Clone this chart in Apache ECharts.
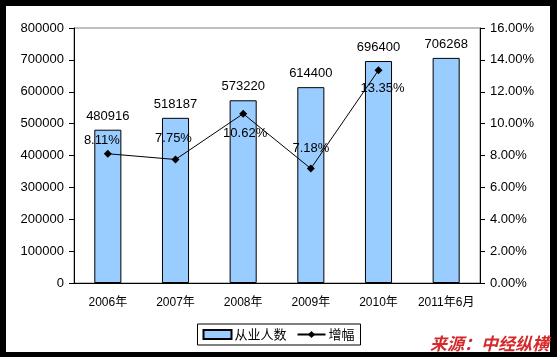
<!DOCTYPE html>
<html><head><meta charset="utf-8">
<script src="https://cdn.jsdelivr.net/npm/echarts@6/dist/echarts.min.js"></script>
<style>html,body{margin:0;padding:0;background:#000;}#c{width:557px;height:357px;}</style>
</head><body><div id="c"></div>
<script>
const categories = ['2006年','2007年','2008年','2009年','2010年','2011年6月'];
const employees = [480916, 518187, 573220, 614400, 696400, 706268];
const growth = [8.11, 7.75, 10.62, 7.18, 13.35, null];
const labelPlace = ['top','top','bottom','top','bottom','top'];
const labelDist = [3, 11, 9, 10, 8, 5];
const labelShift = [-6, -2, 2, 0, 4, 0];

const font = "'Liberation Sans', Arial, 'Noto Sans CJK SC', sans-serif";
const chart = echarts.init(document.getElementById('c'), null, {renderer:'canvas'});
chart.setOption({
  animation: false,
  backgroundColor: '#000',
  graphic: [
    {type:'rect', shape:{x:6,y:6,width:544,height:346}, style:{fill:'#fff'}, z:-10},
    {type:'text', right: 8, bottom: 5, z: 100,
     style:{text:'来源：中经纵横', fill:'#D42A2A', font:"italic bold 17px 'Noto Sans CJK SC', sans-serif"}}
  ],
  grid: {left:74, right:77, top:28, bottom:74, show:true, borderColor:'#808080', borderWidth:1, backgroundColor:'transparent'},
  legend: {
    top: 324, left: 'center',
    itemGap: 10, itemWidth: 28, itemHeight: 9,
    borderColor: '#000', borderWidth: 1, padding: [4, 6, 4, 5],
    textStyle: {fontFamily: "'Noto Sans CJK SC', sans-serif", fontSize: 13, color:'#000', padding:[0,0,0,-2]},
    data: [
      {name:'从业人数', icon:'rect'},
      {name:'增幅'}
    ]
  },
  xAxis: {
    type: 'category', data: categories,
    axisLine: {lineStyle:{color:'#000', width:1}},
    axisTick: {inside:true, length:5, lineStyle:{color:'#000'}},
    axisLabel: {color:'#000', fontSize:12, fontFamily:font, margin:14, interval:0}
  },
  yAxis: [
    {type:'value', min:0, max:800000, interval:100000,
     axisLine:{show:true, lineStyle:{color:'#000'}},
     axisTick:{show:true, length:5, lineStyle:{color:'#000'}},
     splitLine:{show:false},
     axisLabel:{color:'#000', fontSize:13, fontFamily:font, margin:10, formatter: v => String(v)}},
    {type:'value', min:0, max:16, interval:2,
     axisLine:{show:true, lineStyle:{color:'#000'}},
     axisTick:{show:true, length:5, lineStyle:{color:'#000'}},
     splitLine:{show:false},
     axisLabel:{color:'#000', fontSize:13, fontFamily:font, margin:10, formatter: v => v.toFixed(2) + '%'}}
  ],
  series: [
    {name:'从业人数', type:'bar', data: employees, barWidth:'40%',
     itemStyle:{color:'#99CCFF', borderColor:'#000', borderWidth:1},
     label:{show:true, position:'top', distance:7, color:'#000', fontSize:13, fontFamily:font}},
    {name:'增幅', type:'line', yAxisIndex:1,
     data: growth.map((v,i) => ({value:v, label:{position:labelPlace[i], distance:labelDist[i], offset:[labelShift[i],0]}})),
     symbol:'diamond', symbolSize:8, showSymbol:true,
     lineStyle:{color:'#000', width:1}, itemStyle:{color:'#000'},
     label:{show:true, color:'#000', fontSize:13, fontFamily:font, formatter: p => p.value == null ? '' : p.value.toFixed(2) + '%'}}
  ]
});
</script></body></html>
